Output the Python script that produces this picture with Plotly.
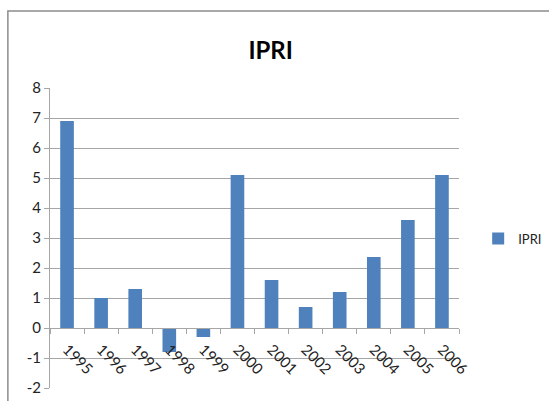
import plotly.graph_objects as go

years = ["1995", "1996", "1997", "1998", "1999", "2000",
         "2001", "2002", "2003", "2004", "2005", "2006"]
ipri = [6.9, 1.0, 1.3, -0.8, -0.3, 5.1, 1.6, 0.7, 1.2, 2.37, 3.6, 5.1]
y_ticks = [-2, -1, 0, 1, 2, 3, 4, 5, 6, 7, 8]
y_tick_labels = ["-2", "-1", "0", "1", "2", "3", "4", "5", "6", "7", "8"]

FONT = "Lato, Open Sans, sans-serif"
GRID = "#a6a6a6"

fig = go.Figure(go.Bar(
    x=years, y=ipri, name="IPRI",
    marker=dict(color="#4f81bd", line=dict(width=0)),
))

fig.update_layout(
    width=549, height=401,
    margin=dict(l=50, r=90, t=88, b=13),
    paper_bgcolor="white", plot_bgcolor="white",
    bargap=0.6,
    title=dict(text="<b>IPRI</b>", x=0.493, xanchor="center", y=0.875, yanchor="middle",
               font=dict(family=FONT, size=24, color="black")),
    showlegend=True,
    legend=dict(xref="container", yref="container", x=0.871, y=0.405,
                xanchor="left", yanchor="middle",
                font=dict(family=FONT, size=13, color="#222"),
                itemwidth=30, bgcolor="rgba(0,0,0,0)"),
    xaxis=dict(
        anchor="free", position=0.2, showline=True, linecolor=GRID, linewidth=1,
        ticks="outside", tickson="boundaries", ticklen=5, tickcolor=GRID,
        tickangle=45, ticklabelstandoff=6,
        tickfont=dict(family=FONT, size=15, color="#222"),
        showgrid=False, automargin=False,
    ),
    yaxis=dict(
        range=[-2, 8], tickvals=y_ticks, ticktext=y_tick_labels,
        showline=True, linecolor=GRID, linewidth=1,
        ticks="outside", ticklen=5, tickcolor=GRID, showgrid=True, gridcolor=GRID,
        zeroline=False, tickfont=dict(family=FONT, size=15, color="#222"),
        automargin=False,
    ),
    shapes=[dict(type="rect", xref="paper", yref="paper",
                 x0=-0.103, x1=1.3, y0=-0.1, y1=1.257,
                 line=dict(color="#8c8c8c", width=1.5))],
)

# browser default body margin shifts the figure by 8px
fig.write_html("out.html", config={"displayModeBar": False},
               post_script="document.body.style.margin='0';")
